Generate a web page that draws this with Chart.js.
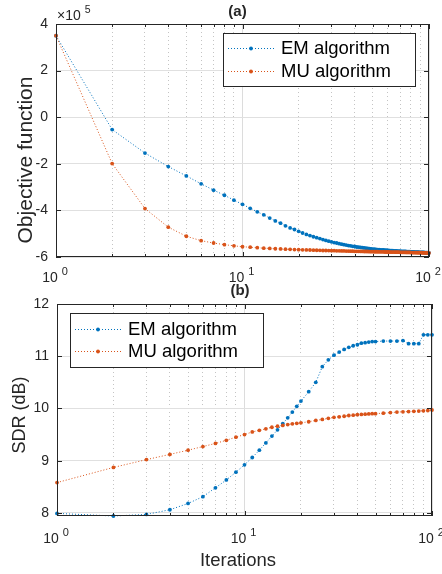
<!DOCTYPE html>
<html>
<head>
<meta charset="utf-8">
<script src="https://cdn.jsdelivr.net/npm/chart.js@4.4.1/dist/chart.umd.min.js"></script>
<style>
  html, body { margin: 0; padding: 0; background: #fff; }
  #wrap { position: relative; width: 442px; height: 574px; overflow: hidden; }
  canvas { position: absolute; left: 0; }
  #objChart { top: 0; }
  #sdrChart { top: 262px; }
</style>
</head>
<body>
<div id="wrap">
  <canvas id="objChart" width="442" height="287"></canvas>
  <canvas id="sdrChart" width="442" height="312"></canvas>
</div>
<script>
// ---- data ----
const iterAll = [1, 2, 3, 4, 5, 6, 7, 8, 9, 10, 11, 12, 13, 14, 15, 16, 17, 18, 19, 20,
  21, 22, 23, 24, 25, 26, 27, 28, 29, 30, 31, 32, 33, 34, 35, 36, 37, 38, 39, 40,
  41, 42, 43, 44, 45, 46, 47, 48, 49, 50, 51, 52, 53, 54, 55, 56, 57, 58, 59, 60,
  61, 62, 63, 64, 65, 66, 67, 68, 69, 70, 71, 72, 73, 74, 75, 76, 77, 78, 79, 80,
  81, 82, 83, 84, 85, 86, 87, 88, 89, 90, 91, 92, 93, 94, 95, 96, 97, 98, 99, 100]

// objective function, in units of 1e5
const emObjective = [3.50, -0.53, -1.54, -2.12, -2.52, -2.86, -3.13, -3.35, -3.56, -3.74,
  -3.91, -4.06, -4.19, -4.33, -4.45, -4.55, -4.66, -4.75, -4.82, -4.90,
  -4.97, -5.03, -5.08, -5.13, -5.17, -5.21, -5.25, -5.29, -5.32, -5.35,
  -5.38, -5.40, -5.43, -5.45, -5.47, -5.49, -5.51, -5.52, -5.54, -5.55,
  -5.57, -5.58, -5.59, -5.60, -5.61, -5.62, -5.63, -5.64, -5.65, -5.66,
  -5.665, -5.67, -5.68, -5.685, -5.69, -5.695, -5.70, -5.705, -5.71, -5.715,
  -5.72, -5.725, -5.73, -5.73, -5.735, -5.74, -5.74, -5.745, -5.75, -5.75,
  -5.755, -5.76, -5.76, -5.765, -5.765, -5.77, -5.77, -5.775, -5.775, -5.78,
  -5.78, -5.785, -5.785, -5.79, -5.79, -5.79, -5.795, -5.795, -5.80, -5.80,
  -5.80, -5.805, -5.805, -5.805, -5.81, -5.81, -5.81, -5.815, -5.815, -5.82]
const muObjective = [3.50, -1.99, -3.92, -4.72, -5.11, -5.30, -5.40, -5.47, -5.52, -5.56,
  -5.58, -5.60, -5.62, -5.63, -5.645, -5.655, -5.665, -5.67, -5.68, -5.685,
  -5.69, -5.695, -5.70, -5.705, -5.71, -5.715, -5.72, -5.72, -5.725, -5.73,
  -5.73, -5.735, -5.735, -5.74, -5.74, -5.745, -5.745, -5.75, -5.75, -5.755,
  -5.755, -5.755, -5.76, -5.76, -5.765, -5.765, -5.765, -5.77, -5.77, -5.77,
  -5.775, -5.775, -5.775, -5.78, -5.78, -5.78, -5.78, -5.785, -5.785, -5.785,
  -5.785, -5.79, -5.79, -5.79, -5.79, -5.795, -5.795, -5.795, -5.795, -5.80,
  -5.80, -5.80, -5.80, -5.80, -5.805, -5.805, -5.805, -5.805, -5.805, -5.81,
  -5.81, -5.81, -5.81, -5.81, -5.81, -5.815, -5.815, -5.815, -5.815, -5.815,
  -5.815, -5.815, -5.82, -5.82, -5.82, -5.82, -5.825, -5.825, -5.825, -5.825]

// SDR was evaluated less often
const iterSdr = [1, 2, 3, 4, 5, 6, 7, 8, 9, 10, 11, 12, 13, 14, 15, 16, 17, 18, 19, 20,
  22, 24, 26, 28, 30, 32, 34, 36, 38, 40, 42, 44, 46, 48, 50,
  55, 60, 65, 70, 75, 80, 85, 90, 95, 100]
const emSdr = [7.99, 7.94, 7.97, 8.06, 8.18, 8.31, 8.48, 8.63, 8.78, 8.92,
  9.06, 9.20, 9.34, 9.47, 9.59, 9.71, 9.82, 9.93, 10.04, 10.14,
  10.32, 10.50, 10.80, 10.93, 11.02, 11.08, 11.13, 11.17, 11.20, 11.22,
  11.25, 11.26, 11.27, 11.28, 11.28,
  11.29, 11.29, 11.29, 11.30, 11.24, 11.24, 11.24, 11.41, 11.41, 11.41]
const muSdr = [8.58, 8.87, 9.02, 9.12, 9.20, 9.27, 9.33, 9.39, 9.45, 9.50,
  9.55, 9.58, 9.61, 9.64, 9.66, 9.675, 9.69, 9.705, 9.715, 9.725,
  9.745, 9.77, 9.79, 9.81, 9.83, 9.84, 9.85, 9.865, 9.87, 9.88,
  9.885, 9.89, 9.895, 9.90, 9.90,
  9.91, 9.92, 9.93, 9.935, 9.94, 9.945, 9.95, 9.955, 9.96, 9.97]

const seriesNames = ['EM algorithm', 'MU algorithm']
const logTicks = [1, 2, 3, 4, 5, 6, 7, 8, 9, 10, 20, 30, 40, 50, 60, 70, 80, 90, 100]
const decadeExponents = ['0', '1', '2']
const objTicks = [-6, -4, -2, 0, 2, 4]
const sdrTicks = [8, 9, 10, 11, 12]

const FONT = '"Liberation Sans", Arial, Helvetica, sans-serif'
const INK = '#262626'
const BLUE = '#0072BD'
const ORANGE = '#D95319'
const DOT = 1.9

const isDecade = v => Math.abs(Math.log10(v) - Math.round(Math.log10(v))) < 1e-9
const toPoints = (xs, ys) => xs.map((x, i) => ({ x, y: ys[i] }))

function drawPow(ctx, base, exp, cx, baseline, size, supSize, raise, gap) {
  ctx.font = `${size}px ${FONT}`
  const w1 = ctx.measureText(base).width
  ctx.font = `${supSize}px ${FONT}`
  const w2 = ctx.measureText(exp).width
  const x0 = cx - (w1 + gap + w2) / 2
  ctx.textAlign = 'left'
  ctx.textBaseline = 'alphabetic'
  ctx.font = `${size}px ${FONT}`
  ctx.fillText(base, x0, baseline)
  ctx.font = `${supSize}px ${FONT}`
  ctx.fillText(exp, x0 + w1 + gap, baseline - raise)
}

// box, inward ticks, labels and legend the way MATLAB draws them
const matlabAxes = {
  id: 'matlabAxes',
  afterDraw(chart, args, o) {
    const { ctx, chartArea: a, scales: { x, y } } = chart
    ctx.save()

    ctx.strokeStyle = INK
    ctx.lineWidth = 1
    ctx.beginPath()
    x.ticks.forEach(t => {
      const px = Math.round(x.getPixelForValue(t.value)) + 0.5
      const len = isDecade(t.value) ? 5 : 3
      ctx.moveTo(px, a.bottom); ctx.lineTo(px, a.bottom - len)
      ctx.moveTo(px, a.top); ctx.lineTo(px, a.top + len)
    })
    y.ticks.forEach(t => {
      const py = Math.round(y.getPixelForValue(t.value)) + 0.5
      ctx.moveTo(a.left, py); ctx.lineTo(a.left + 5, py)
      ctx.moveTo(a.right, py); ctx.lineTo(a.right - 5, py)
    })
    ctx.stroke()
    ctx.strokeRect(a.left + 0.5, a.top + 0.5, a.right - a.left - 1, a.bottom - a.top - 1)

    // everything below is placed in page coordinates
    ctx.translate(0, -o.canvasTop)
    ctx.fillStyle = INK

    // decade labels 10^n
    logTicks.filter(isDecade).forEach((v, i) => {
      const px = x.getPixelForValue(v)
      drawPow(ctx, '10', decadeExponents[i], px - 1, o.xTickBaseline, 14, 11, 7, 4)
    })

    ctx.font = `bold 15px ${FONT}`
    ctx.textAlign = 'center'
    ctx.textBaseline = 'alphabetic'
    ctx.fillText(o.title, o.titleX, o.titleY)

    if (o.xLabel) {
      ctx.font = `${o.labelSize}px ${FONT}`
      ctx.fillText(o.xLabel, o.xLabelX, o.xLabelY)
    }

    ctx.save()
    ctx.translate(o.yLabelX, o.yLabelY)
    ctx.rotate(-Math.PI / 2)
    ctx.font = `${o.yLabelSize}px ${FONT}`
    ctx.textAlign = 'center'
    ctx.fillText(o.yLabel, 0, 0)
    ctx.restore()

    if (o.exponent) {
      ctx.textAlign = 'left'
      ctx.font = `14px ${FONT}`
      ctx.fillText('\u00d710', 57, 20)
      const w = ctx.measureText('\u00d710').width
      ctx.font = `10.5px ${FONT}`
      ctx.fillText(o.exponent, 57 + w + 4, 13)
    }

    // legend
    const L = o.legend
    ctx.fillStyle = '#fff'
    ctx.fillRect(L.x, L.y, L.w, L.h)
    ctx.strokeStyle = INK
    ctx.lineWidth = 1
    ctx.strokeRect(L.x + 0.5, L.y + 0.5, L.w, L.h)
    chart.data.datasets.forEach((ds, i) => {
      const ry = L.rows[i]
      ctx.strokeStyle = ds.borderColor
      ctx.setLineDash([1, 2])
      ctx.beginPath()
      ctx.moveTo(L.lineX0, ry + 0.5); ctx.lineTo(L.lineX1, ry + 0.5)
      ctx.stroke()
      ctx.setLineDash([])
      ctx.fillStyle = ds.borderColor
      ctx.beginPath()
      ctx.arc((L.lineX0 + L.lineX1) / 2, ry + 0.5, DOT, 0, Math.PI * 2)
      ctx.fill()
      ctx.fillStyle = '#000'
      ctx.font = `${o.labelSize}px ${FONT}`
      ctx.textAlign = 'left'
      ctx.textBaseline = 'middle'
      ctx.fillText(ds.label, L.textX, ry + 1)
    })
    ctx.restore()
  }
}

function series(label, color, points, order) {
  return {
    label, data: points, order,
    borderColor: color, backgroundColor: color,
    borderWidth: 1, borderDash: [1, 2],
    pointRadius: DOT, pointBorderWidth: 0, pointHoverRadius: 0,
    tension: 0, clip: 4
  }
}

function xScale() {
  return {
    type: 'logarithmic', min: 1, max: 100,
    afterBuildTicks: s => { s.ticks = logTicks.map(v => ({ value: v, major: isDecade(v) })) },
    ticks: { display: false },
    grid: {
      drawTicks: false,
      color: c => (c.tick && isDecade(c.tick.value)) ? '#dcdcdc' : '#c4c4c4'
    },
    border: { display: false, dash: c => (c.tick && !isDecade(c.tick.value)) ? [1, 3] : [] }
  }
}

function yScale(min, max, tickValues, width) {
  return {
    type: 'linear', min, max,
    afterFit: s => { s.width = width },
    afterBuildTicks: s => { s.ticks = tickValues.map(v => ({ value: v })) },
    ticks: { padding: 8, color: INK, font: { family: FONT, size: 14 } },
    grid: { drawTicks: false, color: '#e0e0e0' },
    border: { display: false }
  }
}

function makeChart(id, datasets, xHeight, yW, yMin, yMax, tickValues, padding, axesOpts) {
  const x = xScale()
  x.afterFit = s => { s.height = xHeight }
  return new Chart(document.getElementById(id), {
    type: 'line',
    data: { datasets },
    options: {
      responsive: false, animation: false, devicePixelRatio: 1,
      layout: { padding },
      plugins: { legend: { display: false }, tooltip: { enabled: false }, matlabAxes: axesOpts },
      scales: { x, y: yScale(yMin, yMax, tickValues, yW) }
    },
    plugins: [matlabAxes]
  })
}

makeChart('objChart', [
  series(seriesNames[0], BLUE, toPoints(iterAll, emObjective), 1),
  series(seriesNames[1], ORANGE, toPoints(iterAll, muObjective), 0)
], 30, 56, -6, 4, objTicks, { top: 24, right: 13, left: 0, bottom: 0 }, {
  canvasTop: 0, title: '(a)', titleX: 237.5, titleY: 16,
  xTickBaseline: 282, yLabel: 'Objective function', yLabelX: 32, yLabelY: 160, yLabelSize: 21,
  labelSize: 18.5, exponent: '5',
  legend: { x: 223, y: 33, w: 192, h: 53, rows: [48, 71], lineX0: 228, lineX1: 274, textX: 281 }
})

// MATLAB tightened the lower limit to the smallest SDR value
makeChart('sdrChart', [
  series(seriesNames[0], BLUE, toPoints(iterSdr, emSdr), 1),
  series(seriesNames[1], ORANGE, toPoints(iterSdr, muSdr), 0)
], 58, 57, Math.min(...emSdr, ...muSdr), 12, sdrTicks, { top: 42, right: 10, left: 0, bottom: 0 }, {
  canvasTop: 262, title: '(b)', titleX: 240, titleY: 295,
  xTickBaseline: 543, xLabel: 'Iterations', xLabelX: 238, xLabelY: 566,
  yLabel: 'SDR (dB)', yLabelX: 25, yLabelY: 415, yLabelSize: 18, labelSize: 18.5,
  legend: { x: 70, y: 313, w: 193, h: 54, rows: [329, 351], lineX0: 75, lineX1: 121, textX: 128 }
})
</script>
</body>
</html>
